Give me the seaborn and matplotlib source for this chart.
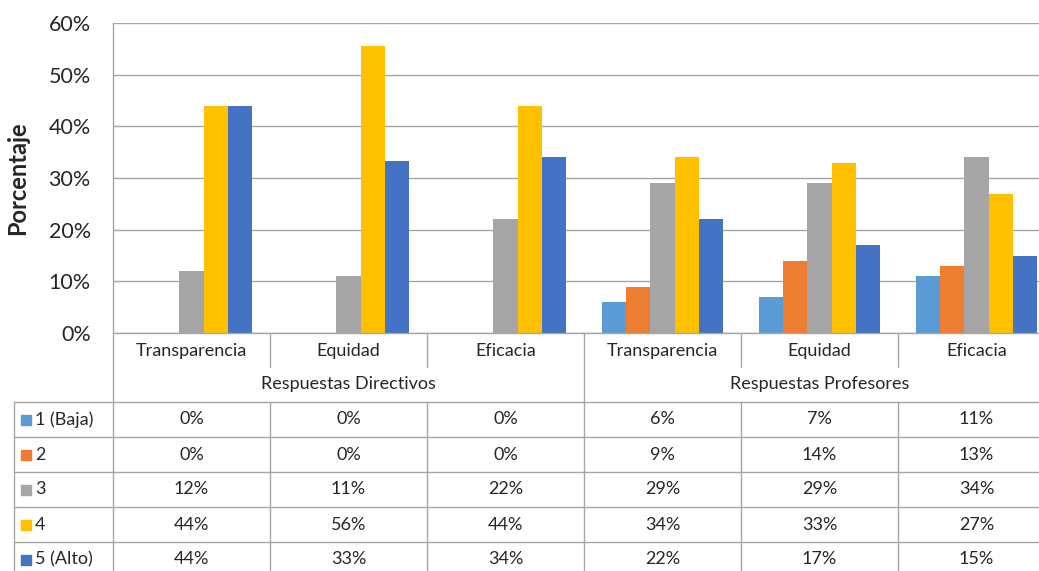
import numpy as np
import pandas as pd
import seaborn as sns
import matplotlib.pyplot as plt

# Datos del gráfico
categorias = ["Transparencia", "Equidad", "Eficacia"]
grupos = ["Respuestas Directivos", "Respuestas Profesores"]
niveles = ["1 (Baja)", "2", "3", "4", "5 (Alto)"]
colores = ["#5B9BD5", "#ED7D31", "#A5A5A5", "#FFC000", "#4472C4"]

nivel1 = [0, 0, 0, 6, 7, 11]
nivel2 = [0, 0, 0, 9, 14, 13]
nivel3 = [12, 11.1, 22, 29, 29, 34]
nivel4 = [44, 55.6, 44, 34, 33, 27]
nivel5 = [44, 33.3, 34, 22, 17, 15]
valores = [nivel1, nivel2, nivel3, nivel4, nivel5]

columnas = [f"{g}|{c}" for g in grupos for c in categorias]

filas = []
for nivel, vals in zip(niveles, valores):
    for col, v in zip(columnas, vals):
        filas.append({"columna": col, "nivel": nivel, "valor": v})
df = pd.DataFrame(filas)

sns.set_style("white")
plt.rcParams['font.family'] = ['Lato', 'DejaVu Sans']

W, H = 1039, 571
fig = plt.figure(figsize=(W / 100, H / 100), dpi=100)

# Geometría en píxeles
x_left, x_right = 113, 1055
y_top, y_bot = 23, 333
col_w = (x_right - x_left) / 6

ax = fig.add_axes([x_left / W, 1 - y_bot / H, (x_right - x_left) / W, (y_bot - y_top) / H])
sns.barplot(data=df, x="columna", y="valor", hue="nivel", order=columnas,
            hue_order=niveles, palette=colores, saturation=1, width=0.765, gap=0,
            edgecolor="none", legend=False, ax=ax)
ax.set_ylim(0, 60)
ax.set_xlim(-0.5, 5.5)
ax.set_yticks(range(0, 61, 10))
ax.set_yticklabels([f"{t}%" for t in range(0, 61, 10)], fontsize=15.5)
ax.tick_params(axis="y", length=0, pad=16)
ax.set_xticks([])
ax.set_xlabel("")
ax.set_ylabel("Porcentaje", fontsize=17, fontweight="bold")
ax.yaxis.set_label_coords((29 - x_left) / (x_right - x_left), 0.5)
ax.yaxis.grid(True, color="#A6A6A6", linewidth=1)
ax.set_axisbelow(True)
for s in ["top", "right", "bottom"]:
    ax.spines[s].set_visible(False)
ax.spines["left"].set_color("#A6A6A6")
ax.spines["left"].set_linewidth(1)

# Tabla de datos debajo (coordenadas en píxeles)
tx0 = 14
tab = fig.add_axes([tx0 / W, 0, (x_right - tx0) / W, (H - y_bot) / H])
tab.set_xlim(tx0, x_right)
tab.set_ylim(H, y_bot)
tab.axis("off")
lc = "#A6A6A6"
lw = 1

# eje x (línea 0%)
tab.plot([x_left, x_right], [y_bot, y_bot], color=lc, lw=lw, clip_on=False)
# línea vertical izquierda del área
tab.plot([x_left, x_left], [y_bot, H], color=lc, lw=lw, clip_on=False)
# divisores de categorías
for i in range(1, 6):
    xb = x_left + i * col_w
    if i == 3:
        tab.plot([xb, xb], [y_bot, H], color=lc, lw=lw, clip_on=False)
    else:
        tab.plot([xb, xb], [y_bot, 367], color=lc, lw=lw, clip_on=False)
        tab.plot([xb, xb], [402, H], color=lc, lw=lw, clip_on=False)

# etiquetas de categorías y grupos
for i, col in enumerate(columnas):
    xc = x_left + (i + 0.5) * col_w
    tab.text(xc, 351, col.split("|")[1], ha="center", va="center", fontsize=13)
for g, grupo in enumerate(grupos):
    xc = x_left + (g * 3 + 1.5) * col_w
    tab.text(xc, 384, grupo, ha="center", va="center", fontsize=13)

# filas de la tabla
row_top = 402
row_h = 35
for r in range(6):
    yl = row_top + r * row_h
    tab.plot([tx0, x_right], [yl, yl], color=lc, lw=lw, clip_on=False)
tab.plot([tx0, tx0], [row_top, H], color=lc, lw=lw, clip_on=False)

for r, (nivel, vals, c) in enumerate(zip(niveles, valores, colores)):
    yc = row_top + (r + 0.5) * row_h
    tab.add_patch(plt.Rectangle((21, yc - 5), 10, 10, color=c, clip_on=False))
    tab.text(35, yc, nivel, ha="left", va="center", fontsize=13)
    for i, v in enumerate(vals):
        xc = x_left + (i + 0.5) * col_w
        tab.text(xc, yc, f"{round(v):.0f}%", ha="center", va="center", fontsize=13)

plt.savefig("out.png", dpi=100)
